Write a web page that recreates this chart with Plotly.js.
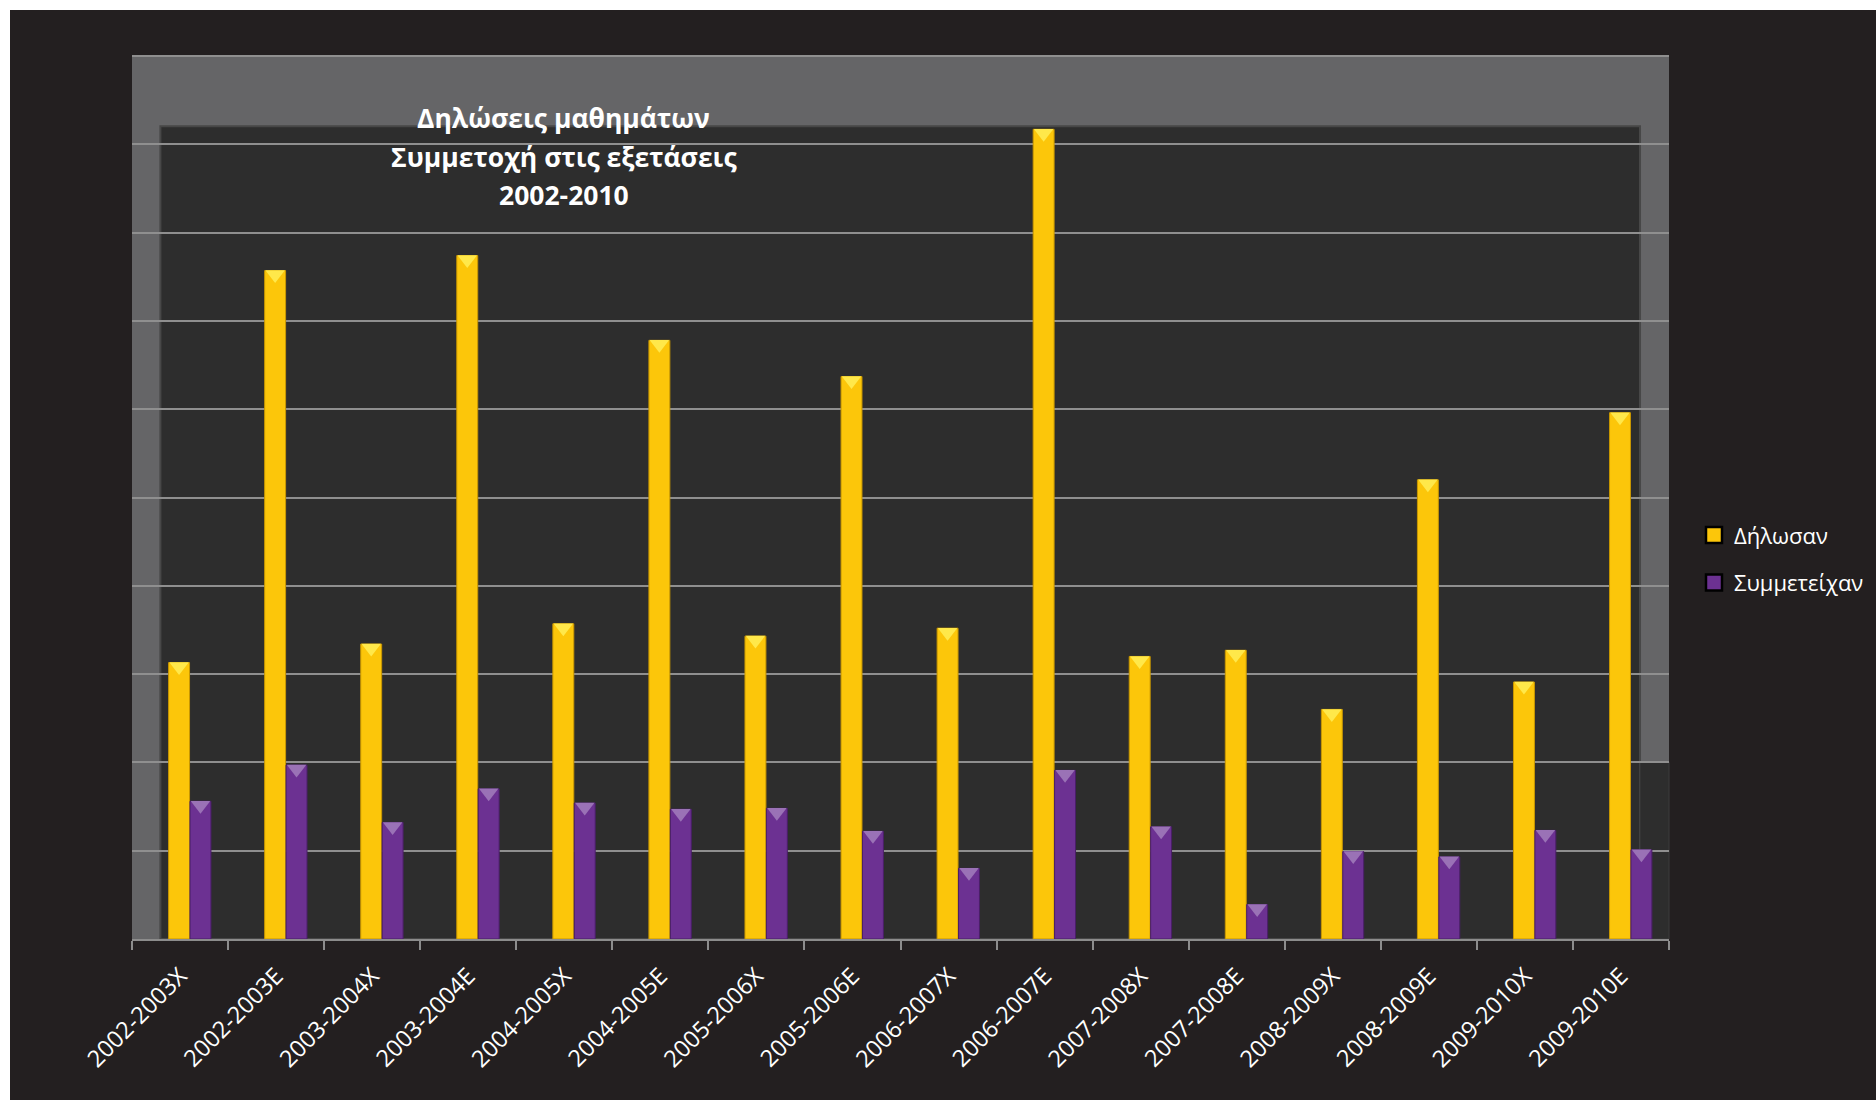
<!DOCTYPE html>
<html>
<head>
<meta charset="utf-8">
<script src="https://cdn.plot.ly/plotly-3.0.1.min.js"></script>
<style>
html,body{margin:0;padding:0;background:#ffffff;width:1876px;height:1100px;overflow:hidden}
#chart{position:absolute;left:10px;top:10px;width:1866px;height:1090px}
</style>
</head>
<body>
<div id="chart"></div>
<script>
// ---- data (y-axis has no labels, units are relative) ----
const categories = ['2002-2003Χ','2002-2003Ε','2003-2004Χ','2003-2004Ε','2004-2005Χ','2004-2005Ε',
                    '2005-2006Χ','2005-2006Ε','2006-2007Χ','2006-2007Ε','2007-2008Χ','2007-2008Ε',
                    '2008-2009Χ','2008-2009Ε','2009-2010Χ','2009-2010Ε'];
const declared     = [313, 757, 334, 774, 357, 678, 343, 637, 352, 917, 320, 327, 260, 520, 291, 596];
const participated = [156, 197, 132, 170, 154, 147, 148, 122,  80, 191, 127,  39,  99,  93, 123, 101];
const seriesNames  = ['Δήλωσαν', 'Συμμετείχαν'];
const titleLines   = ['Δηλώσεις μαθημάτων', 'Συμμετοχή στις εξετάσεις', '2002-2010'];

// ---- styling ----
const YEL = '#FCC60A', YEL_EDGE = '#C99700', YEL_CAP = '#FFE84A';
const PUR = '#6C3192', PUR_EDGE = '#4A1F68', PUR_CAP = '#9A72B6';
const BAR_W = 0.218, OFF_Y = -0.119, OFF_P = 0.104;
const CAP_SHIFT = 4.5;
const idx = categories.map((c, i) => i);
const FONT = 'Open Sans, Noto Sans, DejaVu Sans, sans-serif';

const traces = [
  {type:'bar', name:seriesNames[0], x:categories, y:declared, offset:OFF_Y, width:BAR_W,
   marker:{color:YEL, line:{color:YEL_EDGE, width:1}}, showlegend:false, hoverinfo:'x+y'},
  {type:'bar', name:seriesNames[1], x:categories, y:participated, offset:OFF_P, width:BAR_W,
   marker:{color:PUR, line:{color:PUR_EDGE, width:1}}, showlegend:false, hoverinfo:'x+y'},
  // pyramid caps on top of bars
  {type:'scatter', mode:'markers', xaxis:'x2', x:idx.map(i => i + OFF_Y + BAR_W/2),
   y:declared.map(v => v - CAP_SHIFT), marker:{symbol:'triangle-down', size:17, color:YEL_CAP, line:{width:0}},
   showlegend:false, hoverinfo:'skip'},
  {type:'scatter', mode:'markers', xaxis:'x2', x:idx.map(i => i + OFF_P + BAR_W/2),
   y:participated.map(v => v - CAP_SHIFT), marker:{symbol:'triangle-down', size:17, color:PUR_CAP, line:{width:0}},
   showlegend:false, hoverinfo:'skip'},
  // legend entries
  {type:'scatter', mode:'markers', xaxis:'x2', x:[null], y:[null], name:seriesNames[0], legendgroup:'a',
   marker:{symbol:'square', size:20, color:YEL, line:{color:'#000000', width:2.5}}},
  {type:'scatter', mode:'markers', xaxis:'x2', x:[null], y:[null], name:seriesNames[1], legendgroup:'b',
   marker:{symbol:'square', size:20, color:PUR, line:{color:'#000000', width:2.5}}}
];

const plotLeft = 131.6, plotRight = 1669, plotW = plotRight - plotLeft;
const plotTop = 55.7, plotBottom = 939, plotH = plotBottom - plotTop;
const xp = v => (v - plotLeft) / plotW;     // page pixel column -> paper x
const yp = v => (plotBottom - v) / plotH;   // page pixel row -> paper y
const annotations = titleLines.map((t, k) => ({
  text:'<b>' + t + '</b>', xref:'paper', yref:'paper', x:xp(563.5), y:yp([118, 157, 195][k]),
  xanchor:'center', yanchor:'middle', showarrow:false,
  font:{family:FONT, size:26.5, color:'#ffffff'}
}));

const layout = {
  width:1866, height:1090,
  paper_bgcolor:'#231f20', plot_bgcolor:'#656567',
  margin:{l:122, r:207, t:46, b:161, pad:0, autoexpand:false},
  barmode:'overlay',
  showlegend:true,
  xaxis:{type:'category', range:[-0.5, 15.5], tickson:'boundaries', ticks:'outside', ticklen:9,
         tickwidth:1.5, tickcolor:'#8c8c8c', showline:true, linecolor:'#8c8c8c', linewidth:2,
         tickangle:-45, tickfont:{family:FONT, size:23.5, color:'#ffffff'}, showgrid:false, zeroline:false,
         ticklabelstandoff:12, fixedrange:true, automargin:false},
  xaxis2:{overlaying:'x', range:[-0.5, 15.5], visible:false, fixedrange:true},
  yaxis:{range:[0, 1000], tick0:0, dtick:100, showticklabels:false, ticks:'', gridcolor:'#8f8f8f',
         gridwidth:1.5, zeroline:false, showline:false, fixedrange:true, automargin:false},
  shapes:[
    {type:'rect', xref:'paper', yref:'paper', x0:xp(160), x1:xp(1640),
     y0:0, y1:yp(126), fillcolor:'#2d2d2d', line:{color:'#474747', width:2}, layer:'below'},
    {type:'rect', xref:'paper', yref:'paper', x0:xp(1640), x1:1,
     y0:0, y1:yp(762), fillcolor:'#2d2d2d', line:{color:'#3c3c3c', width:1}, layer:'below'},
    {type:'line', xref:'paper', yref:'paper', x0:0, x1:1, y0:1, y1:1,
     line:{color:'#8f8f8f', width:2}, layer:'below'}
  ],
  annotations:annotations,
  legend:{x:xp(1694), xanchor:'left', y:yp(559), yanchor:'middle', bgcolor:'rgba(0,0,0,0)',
          font:{family:FONT, size:22, color:'#ffffff'}, traceorder:'grouped', tracegroupgap:16,
          itemwidth:30}
};

Plotly.newPlot('chart', traces, layout, {displayModeBar:false});
</script>
</body>
</html>
